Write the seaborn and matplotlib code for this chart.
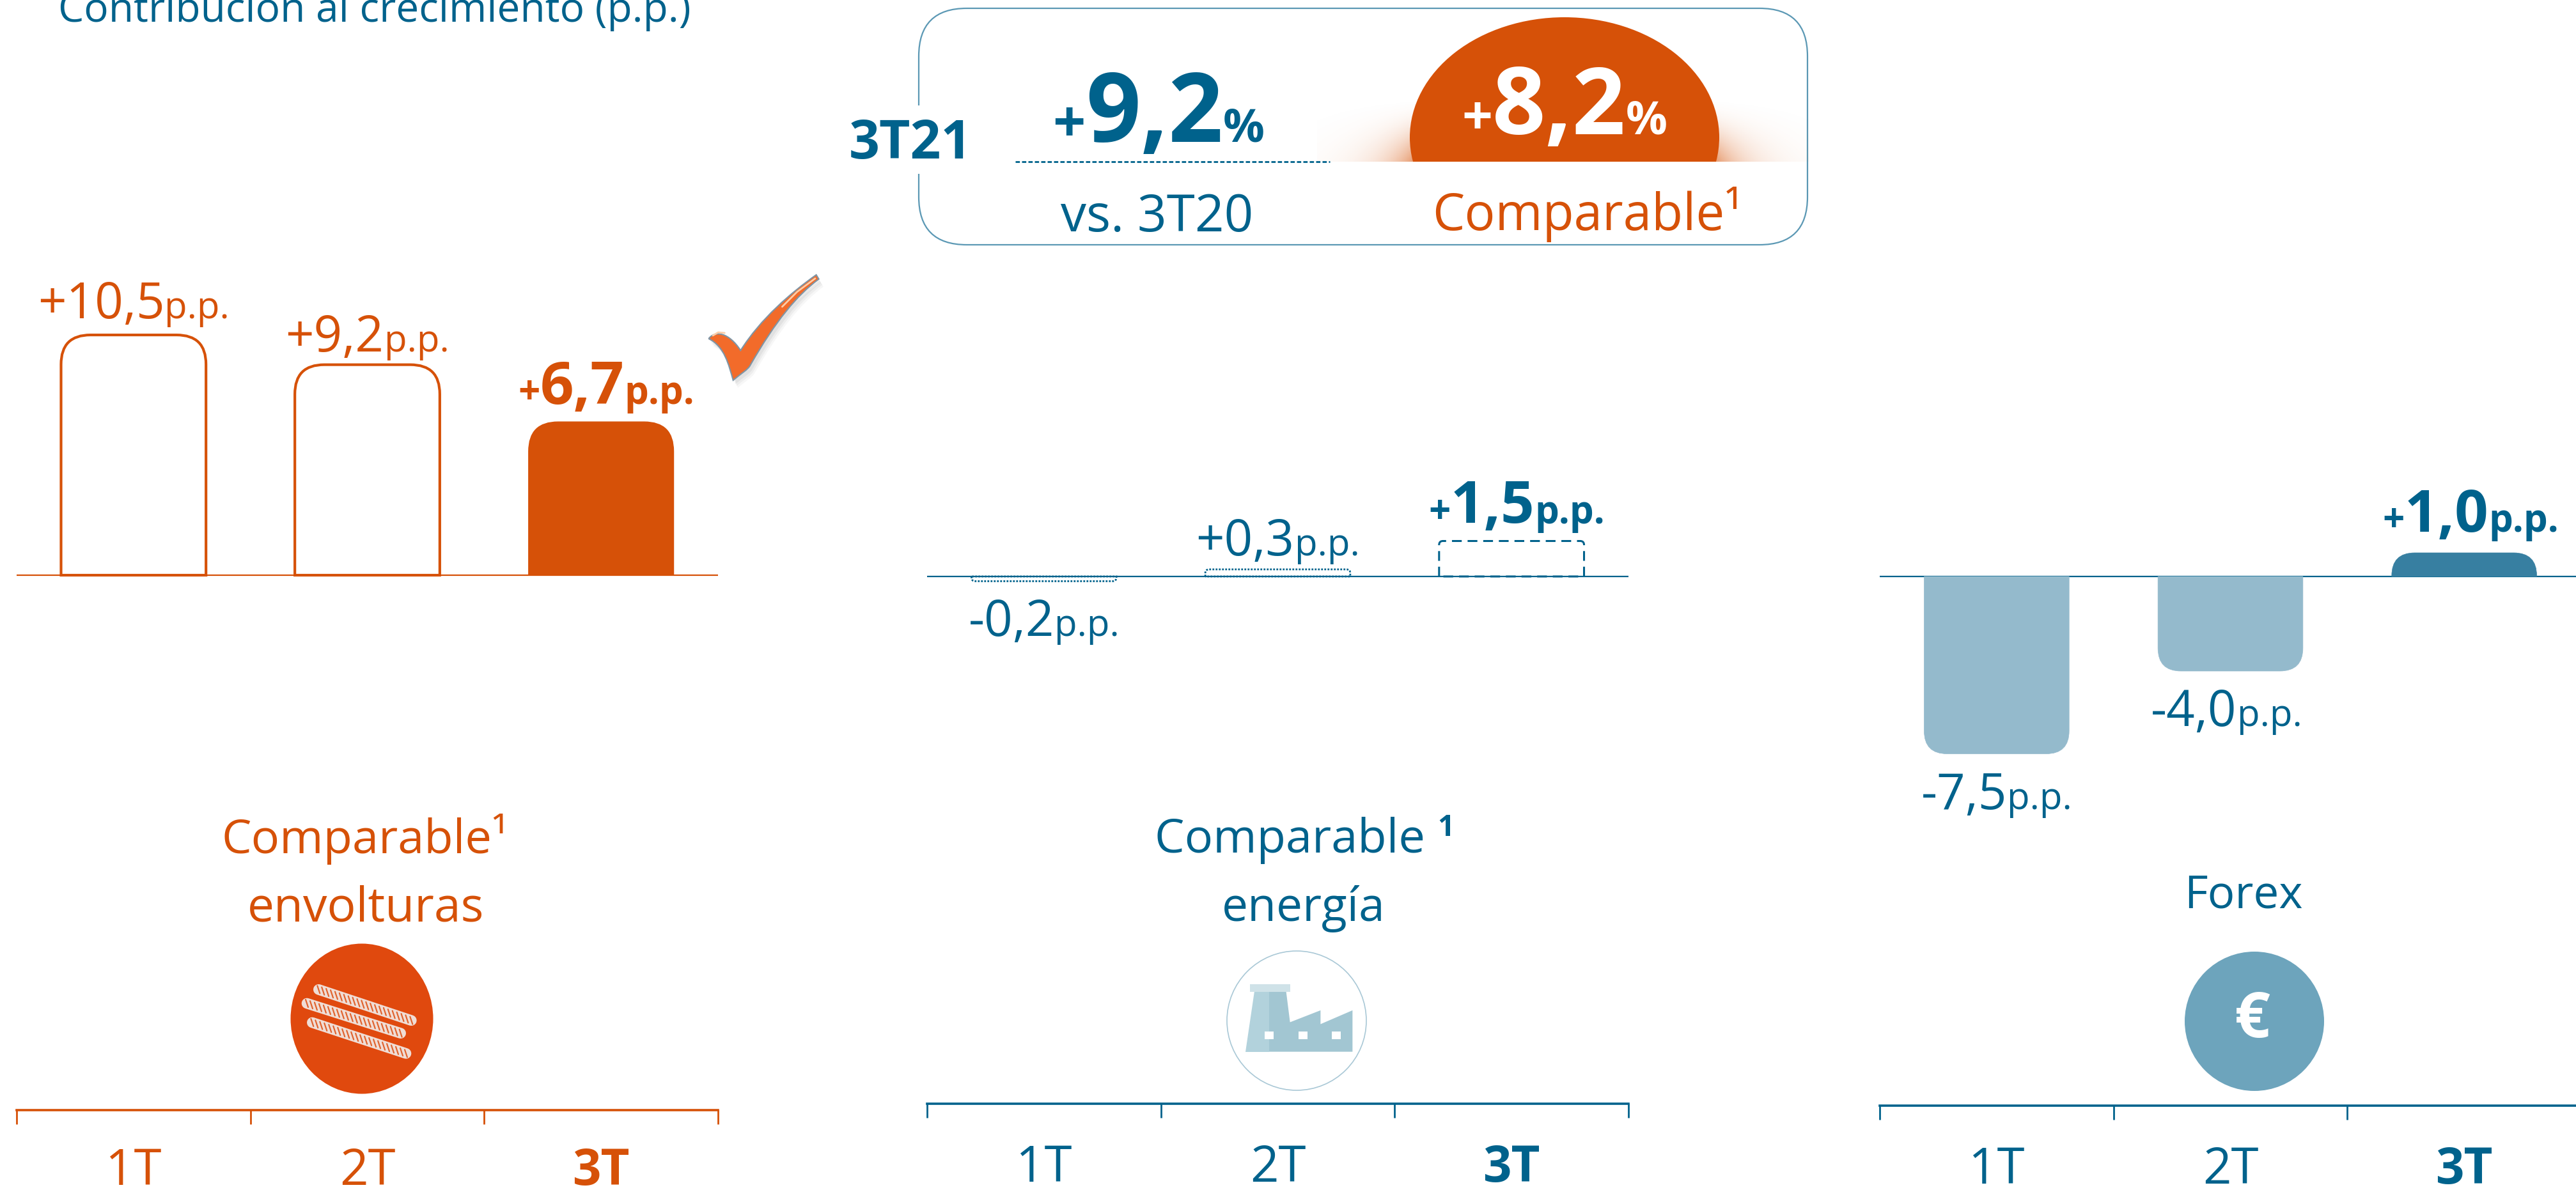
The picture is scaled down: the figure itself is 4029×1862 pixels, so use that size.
import numpy as np
import pandas as pd
import matplotlib
matplotlib.use("Agg")
import matplotlib.pyplot as plt
from matplotlib.patches import Circle, Ellipse, FancyBboxPatch, PathPatch, Polygon, Rectangle
from matplotlib.path import Path
import seaborn as sns

W, H = 4030, 1862
ORANGE = "#D65108"
BLUE = "#00628C"
FONT = "Open Sans"

# datos
trimestres = ["1T", "2T", "3T"]
envolturas = [10.5, 9.2, 6.7]
energia = [-0.2, 0.3, 1.5]
forex = [-7.5, -4.0, 1.0]
envolturas_txt = ["+10,5", "+9,2", "+6,7"]
energia_txt = ["-0,2", "+0,3", "+1,5"]
forex_txt = ["-7,5", "-4,0", "+1,0"]
unidad = "p.p."
titulo = "Contribución al crecimiento (p.p.)"
periodo = "3T21"
kpi_total = "9,2"
kpi_comparable = "8,2"
kpi_versus = "vs. 3T20"

sns.set_theme(style="white")
plt.rcParams["font.family"] = [FONT, "DejaVu Sans"]

fig = plt.figure(figsize=(W / 100, H / 100), dpi=100, facecolor="white")
over = fig.add_axes([0, 0, 1, 1], zorder=5)
over.set_xlim(0, W)
over.set_ylim(H, 0)
over.axis("off")


def pt(px):
    return px * 0.72


def pieces(cx, base, parts, color):
    # texto con varios tamaños sobre la misma linea base, centrado en cx
    rend = fig.canvas.get_renderer()
    items = []
    for p in parts:
        s, size, weight = p[0], p[1], p[2]
        rise = p[3] if len(p) > 3 else 0
        t = over.text(0, base - rise, s, fontsize=pt(size), fontweight=weight,
                      color=color, va="baseline", ha="left", zorder=6)
        items.append((t, t.get_window_extent(rend).width))
    x = cx - sum(w for _, w in items) / 2
    for t, w in items:
        t.set_x(x)
        x += w


def round_bar(ax, patch, radius, fill, edge, lw, ls):
    # sustituye la barra de seaborn por otra con las esquinas exteriores redondeadas
    x0, w, h = patch.get_x(), patch.get_width(), patch.get_height()
    sx, sy = ax.transData.transform((1, 1)) - ax.transData.transform((0, 0))
    rx = radius / abs(sx)
    ry = min(radius / abs(sy), abs(h)) * np.sign(h)
    verts = [(x0, 0), (x0, h - ry), (x0, h), (x0 + rx, h), (x0 + w - rx, h),
             (x0 + w, h), (x0 + w, h - ry), (x0 + w, 0), (x0, 0)]
    codes = [Path.MOVETO, Path.LINETO, Path.CURVE3, Path.CURVE3, Path.LINETO,
             Path.CURVE3, Path.CURVE3, Path.LINETO, Path.CLOSEPOLY]
    patch.remove()
    ax.add_patch(PathPatch(Path(verts, codes), facecolor=fill, edgecolor=edge,
                           linewidth=lw, linestyle=ls, zorder=3))


def panel(left, base, bottom, scale, values, color, radius, styles, pad):
    top = 400
    ax = fig.add_axes([left / W, 1 - bottom / H, 1097 / W, (bottom - top) / H])
    df = pd.DataFrame({"trimestre": trimestres, "valor": values})
    sns.barplot(data=df, x="trimestre", y="valor", ax=ax, width=0.62, color=color, zorder=3)
    ax.set_xlim(-0.5, 2.5)
    ax.set_ylim((base - bottom) / scale, (base - top) / scale)
    ax.patch.set_alpha(0)
    for patch, st in zip(list(ax.patches), styles):
        round_bar(ax, patch, radius, *st)
    ax.axhline(0, color=color, lw=1.6, zorder=2)
    ax.set_xlabel("")
    ax.set_ylabel("")
    ax.set_yticks([])
    ax.set_xticks([-0.5, 0.5, 1.5, 2.5])
    ax.set_xticklabels([])
    ax.tick_params(axis="x", which="major", length=pt(22), width=2, color=color, bottom=True)
    ax.set_xticks([0, 1, 2], minor=True)
    ax.set_xticklabels(trimestres, minor=True, fontsize=pt(78), color=color)
    ax.tick_params(axis="x", which="minor", length=0, pad=pt(pad))
    ax.get_xticklabels(minor=True)[2].set_fontweight("bold")
    sns.despine(ax=ax, left=True)
    ax.spines["bottom"].set_color(color)
    ax.spines["bottom"].set_linewidth(2.6)
    return ax


def value_labels(ax, values, texts, color, gaps_up, gap_down, dx):
    for i, (v, s) in enumerate(zip(values, texts)):
        px, py = ax.transData.transform((i, v))
        py = H - py
        base = py - gaps_up[i] if v > 0 else py + gap_down
        if i == 2:
            parts = [("+", 60, "bold"), (s[1:], 92, "bold"), (unidad, 60, "bold")]
        else:
            parts = [(s, 78, "normal"), (unidad, 58, "normal")]
        pieces(px + dx[i], base, parts, color)


# panel envolturas
L_BLUE = "#94BACC"
st1 = [("white", ORANGE, 3, "-"), ("white", ORANGE, 3, "-"), (ORANGE, ORANGE, 1, "-")]
ax1 = panel(26, 900, 1737, 35.8, envolturas, ORANGE, 46, st1, 57)
value_labels(ax1, envolturas, envolturas_txt, ORANGE, [26, 21, 28], 0, [0, 0, 8])

# panel energia
st2 = [("none", BLUE, 2, (0, (1, 0.8))), ("none", BLUE, 2, (0, (1, 0.8))), ("none", BLUE, 2.2, (0, (5, 3)))]
ax2 = panel(1450, 902, 1727, 37, energia, BLUE, 6, st2, 62)
value_labels(ax2, energia, energia_txt, BLUE, [0, 22, 28], 86, [0, 0, 8])

# panel forex
st3 = [(L_BLUE, L_BLUE, 0.5, "-"), (L_BLUE, L_BLUE, 0.5, "-"), ("#377FA1", "#377FA1", 0.5, "-")]
ax3 = panel(2940, 902, 1730, 37, forex, BLUE, 36, st3, 62)
value_labels(ax3, forex, forex_txt, BLUE, [0, 0, 33], 86, [0, -6, 10])

# titulo, cortado por arriba igual que el original
over.text(586, 34, titulo, fontsize=pt(64), color=BLUE, ha="center", va="baseline", clip_on=False)

# caja superior
over.add_patch(FancyBboxPatch((1437, 13), 1390, 370, boxstyle="round,pad=0,rounding_size=75",
                              facecolor="white", edgecolor="#5B98B4", lw=1.6))
over.add_patch(Rectangle((1425, 165), 30, 107, facecolor="white", edgecolor="none", zorder=3))
over.text(1424, 248, periodo, fontsize=pt(84), fontweight="bold", color=BLUE, ha="center", zorder=4)
pieces(1812, 222, [("+", 90, "bold"), (kpi_total, 150, "bold"), ("%", 72, "bold")], BLUE)
over.plot([1588, 2080], [253, 253], color=BLUE, lw=2, ls=(0, (2.4, 1.2)))
over.text(1810, 362, kpi_versus, fontsize=pt(80), color=BLUE, ha="center")

# cupula con halo
xg = np.linspace(2060, 2830, 300)
yg = np.linspace(150, 253, 60)
gx, gy = np.meshgrid(xg, yg)
dist = np.maximum(np.hypot((gx - 2447) / 242, (gy - 215) / 188) - 1, 0) * 242
glow = np.zeros(gx.shape + (4,))
glow[..., :3] = matplotlib.colors.to_rgb("#E07A3F")
glow[..., 3] = 0.75 * np.exp(-dist / 45) * ((gy - 150) / 103) ** 2
over.imshow(glow, extent=(2060, 2830, 253, 150), aspect="auto", zorder=1)
over.set_xlim(0, W)
over.set_ylim(H, 0)
dome = Ellipse((2447, 215), 484, 376, facecolor=ORANGE, edgecolor="none", zorder=2)
over.add_patch(dome)
dome.set_clip_path(Rectangle((2100, 0), 700, 253, transform=over.transData))
pieces(2447, 210, [("+", 84, "bold"), (kpi_comparable, 146, "bold"), ("%", 72, "bold")], "white")
over.text(2483, 360, "Comparable¹", fontsize=pt(80), color=ORANGE, ha="center", zorder=4)

# nombres de los paneles
over.text(571, 1335, "Comparable¹", fontsize=pt(74), color=ORANGE, ha="center")
over.text(572, 1442, "envolturas", fontsize=pt(75), color=ORANGE, ha="center")
pieces(2040, 1334, [("Comparable ", 74, "normal"), ("1", 46, "bold", 26)], BLUE)
over.text(2039, 1441, "energía", fontsize=pt(73), color=BLUE, ha="center")
over.text(3509, 1422, "Forex", fontsize=pt(71), color=BLUE, ha="center")

# check
chk = [(55, 345), (85, 305), (150, 315), (205, 400), (300, 250), (440, 130), (560, 45),
       (572, 65), (470, 140), (370, 260), (250, 470), (240, 490), (205, 510), (170, 540),
       (150, 470), (130, 380), (55, 345)]
chk_c = [Path.MOVETO] + [Path.CURVE4] * 6 + [Path.LINETO] + [Path.CURVE4] * 6 + [Path.CURVE4] * 3
chk_v = np.array(chk) / 3 + [1090, 415]
for off, al in [(12, 0.06), (9, 0.08), (6, 0.10)]:
    over.add_patch(PathPatch(Path(chk_v + [off * 0.6, off], chk_c), facecolor="#808080",
                             edgecolor="none", alpha=al))
over.add_patch(PathPatch(Path(chk_v, chk_c), facecolor="#F26B2A", edgecolor="#7F95A5", lw=1.5))
over.plot(np.array([400, 470, 555]) / 3 + 1090, np.array([195, 125, 62]) / 3 + 415,
          color="#FBCDA8", lw=2)
over.plot(np.array([75, 100, 130]) / 3 + 1090, np.array([330, 315, 318]) / 3 + 415,
          color="#FBCDA8", lw=2)

# icono envolturas
over.add_patch(Ellipse((566, 1594), 223, 235, facecolor="#E0490E", edgecolor="none"))
for (x0, y0, x1, y1) in [(145, 235, 580, 380), (90, 300, 530, 440), (115, 390, 555, 535)]:
    x0, y0, x1, y1 = x0 / 3 + 450, y0 / 3 + 1470, x1 / 3 + 450, y1 / 3 + 1470
    over.plot([x0, x1], [y0, y1], color="#F0DDD5", lw=12, solid_capstyle="round")
    for f in np.linspace(0, 1, 22):
        xc, yc = x0 + (x1 - x0) * f, y0 + (y1 - y0) * f
        over.plot([xc - 2, xc + 2], [yc - 6, yc + 6], color="#E0602A", lw=1.5)

# icono energia
over.add_patch(Circle((2028, 1597), 109, facecolor="white", edgecolor="#A9C8D6", lw=1.2))
fx = lambda x: x / 1.3 + 1400
fy = lambda y: y / 1.343 + 700
body = [(760, 1143), (795, 1143), (803, 1208), (865, 1183), (865, 1212), (930, 1183), (930, 1270), (760, 1270)]
left = [(730, 1143), (760, 1143), (760, 1270), (712, 1270)]
over.add_patch(Polygon([(fx(a), fy(b)) for a, b in body], facecolor="#A2C6D2", edgecolor="none"))
over.add_patch(Polygon([(fx(a), fy(b)) for a, b in left], facecolor="#B2D2DC", edgecolor="none"))
over.add_patch(Rectangle((fx(721), fy(1128)), 63, 12, facecolor="#CFE2E8", edgecolor="none"))
for wx in [761, 829, 897]:
    over.add_patch(Rectangle((fx(wx) - 7, fy(1236) - 6), 14, 12, facecolor="white", edgecolor="none"))

# icono forex
over.add_patch(Circle((3526, 1598), 109, facecolor="#6DA4BC", edgecolor="none"))
over.text(3523, 1598, "€", fontsize=pt(98), fontweight="bold", color="white", ha="center", va="center")

plt.savefig("out.png", dpi=100)
plt.close()
